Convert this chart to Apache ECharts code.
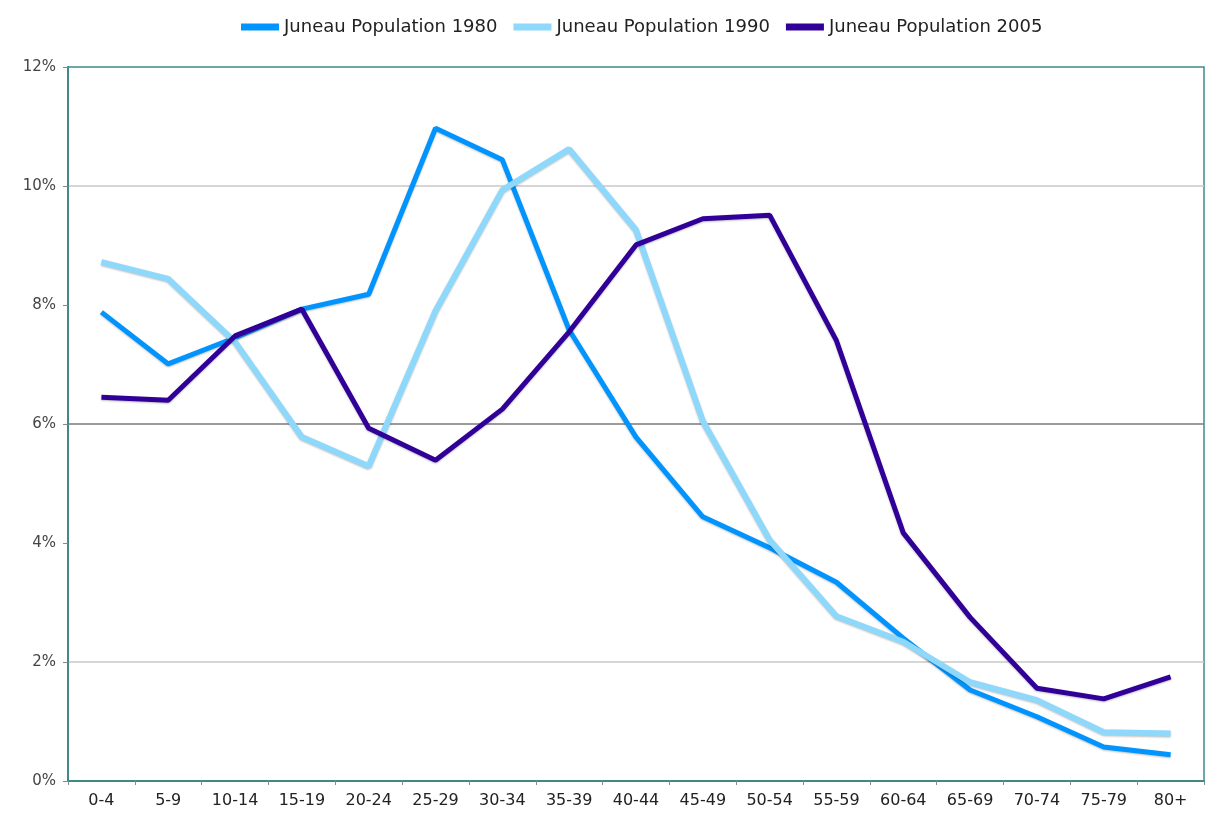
<!DOCTYPE html>
<html>
<head>
<meta charset="utf-8">
<script src="https://cdn.jsdelivr.net/npm/echarts@6/dist/echarts.min.js"></script>
<style>
  html, body { margin: 0; padding: 0; background: #fff; }
  #chart { width: 1208px; height: 826px; }
</style>
</head>
<body>
<div id="chart"></div>
<script>
// age groups
var ageGroups = ["0-4", "5-9", "10-14", "15-19", "20-24", "25-29", "30-34", "35-39", "40-44",
  "45-49", "50-54", "55-59", "60-64", "65-69", "70-74", "75-79", "80+"];
// share of population, percent
var pop1980 = [7.88, 7.01, 7.45, 7.93, 8.18, 10.97, 10.44, 7.58, 5.78, 4.44, 3.92, 3.34, 2.40, 1.53, 1.08, 0.57, 0.44];
var pop1990 = [8.72, 8.44, 7.38, 5.78, 5.29, 7.90, 9.93, 10.62, 9.26, 6.05, 4.05, 2.77, 2.34, 1.66, 1.36, 0.82, 0.80];
var pop2005 = [6.45, 6.40, 7.48, 7.93, 5.93, 5.39, 6.25, 7.55, 9.01, 9.45, 9.51, 7.40, 4.17, 2.75, 1.56, 1.38, 1.75];
var seriesNames = ["Juneau Population 1980", "Juneau Population 1990", "Juneau Population 2005"];
var yTicks = ["0%", "2%", "4%", "6%", "8%", "10%", "12%"];

var chart = echarts.init(document.getElementById("chart"));

function line(name, data, color, width) {
  return {
    name: name,
    type: "line",
    data: data,
    symbol: "none",
    lineStyle: {
      color: color,
      width: width,
      shadowColor: "rgba(0,0,0,0.25)",
      shadowBlur: 2,
      shadowOffsetY: 1
    },
    itemStyle: { color: color },
    emphasis: { disabled: true }
  };
}

chart.setOption({
  animation: false,
  textStyle: { fontFamily: "DejaVu Sans" },
  legend: {
    top: 13,
    left: 236,
    itemWidth: 38,
    itemHeight: 7,
    itemGap: 16,
    icon: "rect",
    textStyle: { fontSize: 18, color: "#222", fontFamily: "DejaVu Sans" },
    data: seriesNames
  },
  grid: {
    left: 68,
    right: 4,
    top: 67,
    bottom: 45,
    show: true,
    borderColor: "#3e8a8a",
    borderWidth: 1.5
  },
  xAxis: {
    type: "category",
    data: ageGroups,
    boundaryGap: true,
    axisLine: { lineStyle: { color: "#3e8a8a", width: 2 } },
    axisTick: { show: true, length: 4, lineStyle: { color: "#888" } },
    axisLabel: { color: "#222", fontSize: 16, margin: 12, interval: 0 }
  },
  yAxis: {
    type: "value",
    min: 0,
    max: 12,
    interval: 2,
    axisLine: { show: true, lineStyle: { color: "#3e8a8a", width: 2 } },
    axisTick: { show: true, length: 5, lineStyle: { color: "#888" } },
    axisLabel: {
      color: "#444",
      fontSize: 15,
      margin: 12,
      formatter: function (v) { return yTicks[v / 2]; }
    },
    splitLine: {
      show: true,
      lineStyle: {
        color: ["rgba(0,0,0,0)", "#c8c8c8", "rgba(0,0,0,0)", "#7a7a7a", "rgba(0,0,0,0)", "#c8c8c8", "rgba(0,0,0,0)"],
        width: 1.5
      }
    }
  },
  series: [
    line(seriesNames[0], pop1980, "#0094ff", 5),
    line(seriesNames[1], pop1990, "#8ed8fc", 6),
    line(seriesNames[2], pop2005, "#300098", 5)
  ]
});
</script>
</body>
</html>
